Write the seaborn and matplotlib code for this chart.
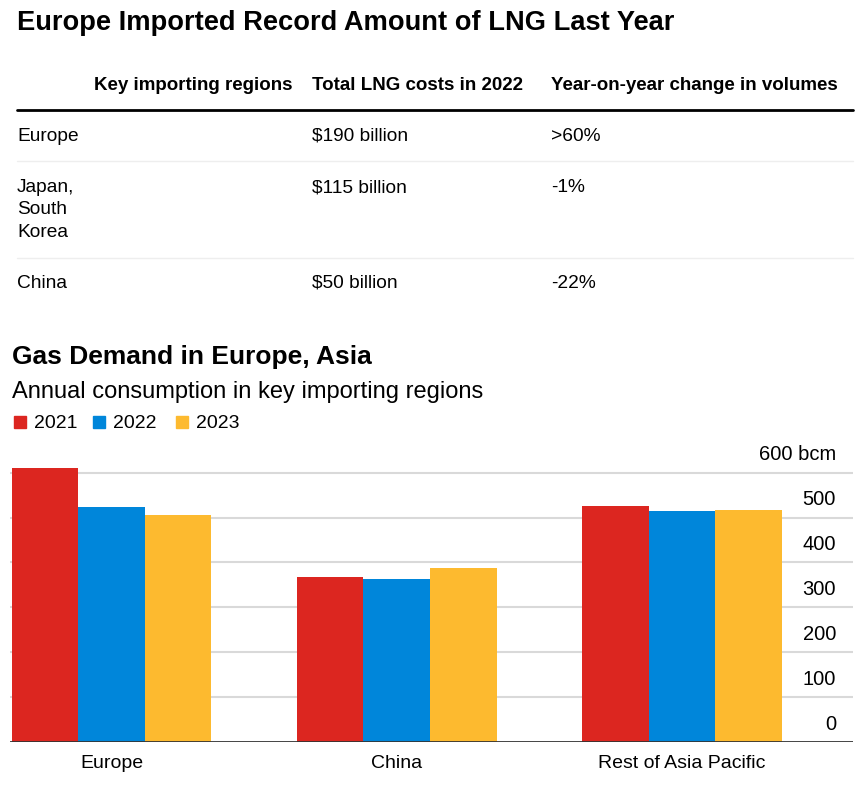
import numpy as np
import pandas as pd
import matplotlib
matplotlib.use("Agg")
import matplotlib.pyplot as plt
import matplotlib.transforms as mtransforms
from matplotlib.lines import Line2D
from matplotlib.patches import Rectangle
import seaborn as sns

# ========================
# DATA
# ========================
regions = ["Europe", "China", "Rest of Asia Pacific"]
years = ["2021", "2022", "2023"]
demand_2021 = [610, 367, 526]
demand_2022 = [523, 364, 515]
demand_2023 = [505, 388, 517]
y_ticks = [0, 100, 200, 300, 400, 500, 600]

table_header = ["Key importing regions", "Total LNG costs in 2022", "Year-on-year change in volumes"]
table_regions = ["Europe", "Japan,\nSouth\nKorea", "China"]
table_costs = ["$190 billion", "$115 billion", "$50 billion"]
table_changes = [">60%", "-1%", "-22%"]

colors = ["#DC2620", "#0086DA", "#FDBA2F"]

W, H = 866, 795
FONT = "Liberation Sans"


def fx(px):
    return px / W


def fy(py):
    return 1 - py / H


sns.set_theme(style="white")
plt.rcParams["font.family"] = [FONT, "DejaVu Sans"]
plt.rcParams["text.color"] = "black"

fig = plt.figure(figsize=(W / 100, H / 100), dpi=100)

# ========================
# TABLE
# ========================
fig.text(fx(17), fy(23), "Europe Imported Record Amount of LNG Last Year",
         fontsize=19.6, fontweight="bold", va="center", ha="left")

fig.text(fx(292), fy(86), table_header[0], fontsize=13.5, fontweight="bold", va="center", ha="right")
fig.text(fx(312), fy(86), table_header[1], fontsize=13.5, fontweight="bold", va="center", ha="left")
fig.text(fx(551), fy(86), table_header[2], fontsize=13.5, fontweight="bold", va="center", ha="left")

fig.add_artist(Line2D([fx(17), fx(853)], [fy(110), fy(110)], color="black", lw=2, transform=fig.transFigure))

row_centers = [135, 186, 282]
for yc, reg, cost, chg in zip(row_centers, table_regions, table_costs, table_changes):
    fig.text(fx(17), fy(yc - 7), reg, fontsize=13.8, va="top", ha="left", linespacing=1.42)
    fig.text(fx(312), fy(yc - 7), cost, fontsize=13.8, va="top", ha="left")
    fig.text(fx(551), fy(yc - 7), chg, fontsize=13.8, va="top", ha="left")

for sep in [161, 258]:
    fig.add_artist(Line2D([fx(17), fx(853)], [fy(sep), fy(sep)], color="#eeeeee", lw=1, transform=fig.transFigure))

# ========================
# BAR CHART
# ========================
fig.text(fx(12), fy(357), "Gas Demand in Europe, Asia", fontsize=19, fontweight="bold", va="center", ha="left")
fig.text(fx(12), fy(392), "Annual consumption in key importing regions", fontsize=17, va="center", ha="left")

leg_x = [14, 93, 176]
for x0, yr, c in zip(leg_x, years, colors):
    fig.add_artist(Rectangle((fx(x0), fy(428)), 12 / W, 12 / H, color=c, transform=fig.transFigure))
    fig.text(fx(x0 + 20), fy(424), yr, fontsize=14, va="center", ha="left")

df = pd.DataFrame({
    "region": np.repeat(regions, 3),
    "year": years * 3,
    "value": [v for trio in zip(demand_2021, demand_2022, demand_2023) for v in trio],
})

ymax = 620
y0_px = 742
scale = 269.3 / 600
top_px = y0_px - ymax * scale
ax = fig.add_axes([fx(10), fy(y0_px), fx(853) - fx(10), (y0_px - top_px) / H])

sns.barplot(data=df, x="region", y="value", hue="year", order=regions, hue_order=years,
            palette=colors, saturation=1, width=0.7, gap=0, ax=ax, legend=False, linewidth=0)

ax.set_xlim(-0.356, 2.6)
ax.set_ylim(0, ymax)
ax.set_xlabel("")
ax.set_ylabel("")
ax.set_yticks([])
for t in y_ticks[1:]:
    ax.axhline(t, color="#d9d9d9", lw=1.5, zorder=0)
ax.axhline(0, color="#333333", lw=2, zorder=3)
for s in ax.spines.values():
    s.set_visible(False)

# tick labels sit above their gridlines, right-aligned inside the plot
offset = mtransforms.ScaledTranslation(0, 18 / 100, fig.dpi_scale_trans)
trans = mtransforms.blended_transform_factory(ax.transAxes, ax.transData) + offset
label_x = (836 - 10) / (853 - 10)
for t in y_ticks:
    lab = f"{t} bcm" if t == y_ticks[-1] else str(t)
    ax.text(label_x, t, lab, transform=trans, ha="right", va="center", fontsize=14.5, color="black")

ax.tick_params(axis="x", length=0, pad=9, labelsize=14, labelcolor="black")

fig.savefig("out.png", dpi=100, facecolor="white")
